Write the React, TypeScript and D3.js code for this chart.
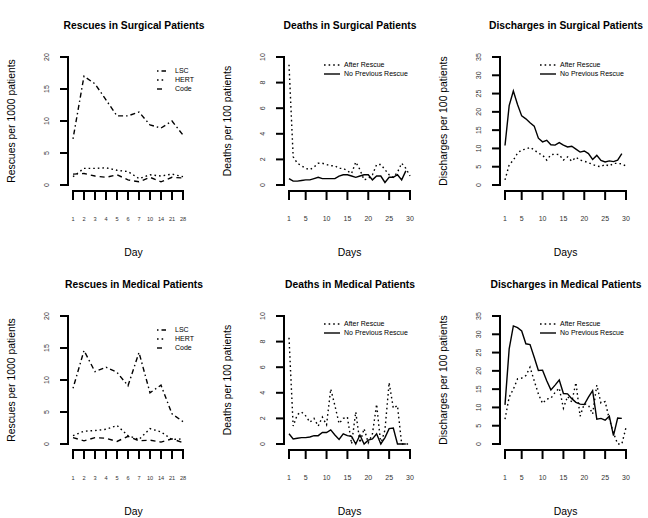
import React from "react";
import * as d3 from "d3";

// ---------- data ----------
const rescueDays = ["1", "2", "3", "4", "5", "6", "7", "10", "14", "21", "28"];
const surgLSC = [7.2, 17.0, 15.8, 13.3, 10.8, 10.8, 11.4, 9.4, 8.9, 10.0, 7.8];
const surgHERT = [1.3, 2.6, 2.6, 2.7, 2.3, 2.1, 1.0, 1.6, 1.4, 1.7, 1.3];
const surgCode = [1.7, 1.8, 1.4, 1.2, 1.6, 0.8, 0.5, 1.2, 0.5, 1.2, 1.1];
const medLSC = [8.7, 14.6, 11.3, 12.0, 11.2, 9.1, 14.3, 8.0, 9.2, 4.7, 3.5];
const medHERT = [1.3, 2.0, 2.1, 2.3, 2.9, 1.3, 0.7, 2.4, 1.9, 0.7, 0.8];
const medCode = [1.0, 0.5, 1.0, 0.9, 0.4, 1.2, 0.5, 0.6, 0.3, 0.8, 0.2];

const days = [1, 2, 3, 4, 5, 6, 7, 8, 9, 10, 11, 12, 13, 14, 15, 16, 17, 18, 19, 20, 21, 22, 23, 24, 25, 26, 27, 28, 29, 30];
const dayTicks = [1, 5, 10, 15, 20, 25, 30];

const surgDeathAfter = [9.4, 2.2, 1.7, 1.5, 1.3, 1.2, 1.4, 1.7, 1.7, 1.6, 1.5, 1.5, 1.3, 1.3, 1.1, 0.9, 1.8, 1.2, 0.4, 0.5, 0.8, 1.6, 1.6, 1.2, 0.8, 0.6, 1.0, 1.7, 1.3, 0.7];
const surgDeathNone = [0.5, 0.3, 0.3, 0.35, 0.4, 0.4, 0.5, 0.6, 0.5, 0.5, 0.5, 0.5, 0.7, 0.8, 0.8, 0.7, 0.6, 0.7, 0.8, 0.8, 0.4, 0.7, 0.7, 0.2, 0.6, 0.6, 0.8, 0.4, 1.1];
const surgDischAfter = [1.4, 5.5, 6.8, 8.7, 9.6, 9.8, 10.3, 9.6, 8.7, 8.2, 6.8, 8.3, 8.4, 8.3, 6.8, 7.7, 6.5, 7.6, 6.8, 6.5, 6.1, 5.6, 5.2, 5.0, 5.6, 5.2, 5.9, 5.9, 5.8, 5.2];
const surgDischNone = [10.8, 21.7, 25.7, 22.0, 18.9, 18.1, 17.0, 16.1, 12.8, 11.8, 12.2, 11.0, 10.9, 11.6, 10.9, 10.4, 10.6, 9.8, 9.0, 9.3, 8.6, 7.0, 8.1, 6.7, 6.3, 6.6, 6.4, 6.8, 8.6];

const medDeathAfter = [8.3, 1.4, 2.3, 2.5, 2.2, 1.7, 2.0, 1.4, 2.1, 1.5, 4.3, 3.0, 1.6, 2.0, 2.1, 0.0, 2.5, 0.1, 1.2, 0.1, 0.8, 3.1, 0.0, 1.1, 4.8, 2.8, 3.0, 0.0, 0.0, 0.0];
const medDeathNone = [0.8, 0.4, 0.45, 0.5, 0.5, 0.55, 0.65, 0.65, 0.9, 0.9, 1.1, 0.7, 0.35, 0.8, 0.65, 0.6, 0.0, 0.7, 0.0, 0.3, 0.4, 0.8, 0.0, 0.5, 1.2, 1.25, 0.0, 0.0, 0.0];
const medDischAfter = [6.8, 12.8, 15.0, 17.8, 18.0, 18.7, 21.0, 17.3, 13.7, 11.1, 12.3, 12.5, 14.1, 15.3, 9.8, 13.0, 11.5, 16.8, 7.6, 11.0, 10.6, 8.2, 16.1, 11.2, 11.6, 6.8, 3.0, 0.0, 0.0, 4.5];
const medDischNone = [10.7, 26.0, 32.3, 31.8, 30.9, 27.4, 27.2, 23.7, 20.1, 20.2, 17.3, 14.8, 16.1, 17.5, 13.8, 13.7, 12.4, 11.4, 10.9, 10.8, 12.8, 14.6, 6.8, 7.0, 6.5, 7.6, 2.3, 7.1, 7.0];

// ---------- styles ----------
const DOTDASH = "1.5 3 5 3";
const DOTTED = "1.6 3";
const DASHED = "5 4";

const FONT = "Liberation Sans, Arial, sans-serif";

type Series = { values: number[]; dash: string | null; label: string };

type PanelProps = {
  ox: number;
  oy: number;
  title: string;
  ylabel: string;
  xlabel: string;
  ymax: number;
  ystep: number;
  categorical: boolean;
  series: Series[];
};

const L = 68, R = 199, YTOP = 57, Y0 = 185, XAXIS = 191;

function Panel(p: PanelProps) {
  const y = d3.scaleLinear().domain([0, p.ymax]).range([Y0, YTOP]);
  const yTicks = d3.range(0, p.ymax + 0.001, p.ystep);
  let x: d3.ScaleLinear<number, number>;
  let xTickVals: number[];
  let xTickLabels: string[];
  let xs: (i: number) => number;
  if (p.categorical) {
    x = d3.scaleLinear().domain([0, 11]).range([73, 194]);
    xTickVals = rescueDays.map((_, i) => i);
    xTickLabels = rescueDays;
    xs = (i) => i;
  } else {
    x = d3.scaleLinear().domain([1, 30]).range([73, 194]);
    xTickVals = dayTicks;
    xTickLabels = dayTicks.map(String);
    xs = (i) => days[i];
  }
  const xFirst = x(xTickVals[0]);
  const xLast = x(xTickVals[xTickVals.length - 1]);
  const line = d3
    .line<number>()
    .x((_, i) => x(xs(i)))
    .y((v) => y(v));
  const cx = (L + R) / 2;
  const legendCat = p.categorical;
  return (
    <g transform={`translate(${p.ox},${p.oy})`} fontFamily={FONT}>
      <text x={cx + 0.5} y={29} textAnchor="middle" fontWeight="bold" fontSize={10.3} fill="#000">
        {p.title}
      </text>
      {/* y axis */}
      <line x1={L} x2={L} y1={y(p.ymax)} y2={y(0)} stroke="#000" strokeWidth={2} strokeLinecap="square" />
      {yTicks.map((t) => (
        <g key={"y" + t}>
          <line x1={L} x2={L - 8} y1={y(t)} y2={y(t)} stroke="#000" strokeWidth={2} />
          <text
            transform={`translate(${47},${y(t)}) rotate(-90)`}
            textAnchor="middle"
            dy="0.35em"
            fontSize={7}
            fill="#333"
          >
            {t}
          </text>
        </g>
      ))}
      {/* x axis */}
      <line x1={xFirst} x2={xLast} y1={XAXIS} y2={XAXIS} stroke="#000" strokeWidth={2} strokeLinecap="square" />
      {xTickVals.map((t, i) => (
        <g key={"x" + t}>
          <line x1={x(t)} x2={x(t)} y1={XAXIS} y2={XAXIS + 9} stroke="#000" strokeWidth={2} />
          <text x={x(t)} y={219} dy="0.35em" textAnchor="middle" fontSize={p.categorical ? 5.6 : 7} fill="#333">
            {xTickLabels[i]}
          </text>
        </g>
      ))}
      <text x={cx} y={256} textAnchor="middle" fontSize={10.4} fill="#000">
        {p.xlabel}
      </text>
      <text transform={`translate(${15},${121}) rotate(-90)`} textAnchor="middle" fontSize={10.4} fill="#000">
        {p.ylabel}
      </text>
      {/* series */}
      {p.series.map((s, k) => (
        <path
          key={"s" + k}
          d={line(s.values) || ""}
          fill="none"
          stroke="#000"
          strokeWidth={1.4}
          strokeDasharray={s.dash || undefined}
        />
      ))}
      {/* legend */}
      {p.series.map((s, k) => {
        const ly = legendCat ? 71 + k * 9 : 65 + k * 9;
        const lx1 = legendCat ? 157 : 108;
        const lx2 = legendCat ? 166 : 124;
        const tx = legendCat ? 175 : 128;
        return (
          <g key={"l" + k}>
            <line x1={lx1} x2={lx2} y1={ly} y2={ly} stroke="#000" strokeWidth={1.4} strokeDasharray={s.dash || undefined} />
            <text x={tx} y={ly} dy="0.35em" fontSize={7} fill="#000">
              {s.label}
            </text>
          </g>
        );
      })}
    </g>
  );
}

export default function App() {
  const rescueSeries = (a: number[], b: number[], c: number[]): Series[] => [
    { values: a, dash: DOTDASH, label: "LSC" },
    { values: b, dash: DOTTED, label: "HERT" },
    { values: c, dash: DASHED, label: "Code" },
  ];
  const outcomeSeries = (a: number[], b: number[]): Series[] => [
    { values: a, dash: DOTTED, label: "After Rescue" },
    { values: b, dash: null, label: "No Previous Rescue" },
  ];
  return (
    <svg
      width={648}
      height={518}
      style={{ position: "absolute", left: 0, top: 0, background: "#fff" }}
    >
      <rect width={648} height={518} fill="#fff" />
      <Panel ox={0} oy={0} title="Rescues in Surgical Patients" ylabel="Rescues per 1000 patients" xlabel="Day" ymax={20} ystep={5} categorical series={rescueSeries(surgLSC, surgHERT, surgCode)} />
      <Panel ox={216} oy={0} title="Deaths in Surgical Patients" ylabel="Deaths per 100 patients" xlabel="Days" ymax={10} ystep={2} categorical={false} series={outcomeSeries(surgDeathAfter, surgDeathNone)} />
      <Panel ox={432} oy={0} title="Discharges in Surgical Patients" ylabel="Discharges per 100 patients" xlabel="Days" ymax={35} ystep={5} categorical={false} series={outcomeSeries(surgDischAfter, surgDischNone)} />
      <Panel ox={0} oy={259} title="Rescues in Medical Patients" ylabel="Rescues per 1000 patients" xlabel="Day" ymax={20} ystep={5} categorical series={rescueSeries(medLSC, medHERT, medCode)} />
      <Panel ox={216} oy={259} title="Deaths in Medical Patients" ylabel="Deaths per 100 patients" xlabel="Days" ymax={10} ystep={2} categorical={false} series={outcomeSeries(medDeathAfter, medDeathNone)} />
      <Panel ox={432} oy={259} title="Discharges in Medical Patients" ylabel="Discharges per 100 patients" xlabel="Days" ymax={35} ystep={5} categorical={false} series={outcomeSeries(medDischAfter, medDischNone)} />
    </svg>
  );
}
